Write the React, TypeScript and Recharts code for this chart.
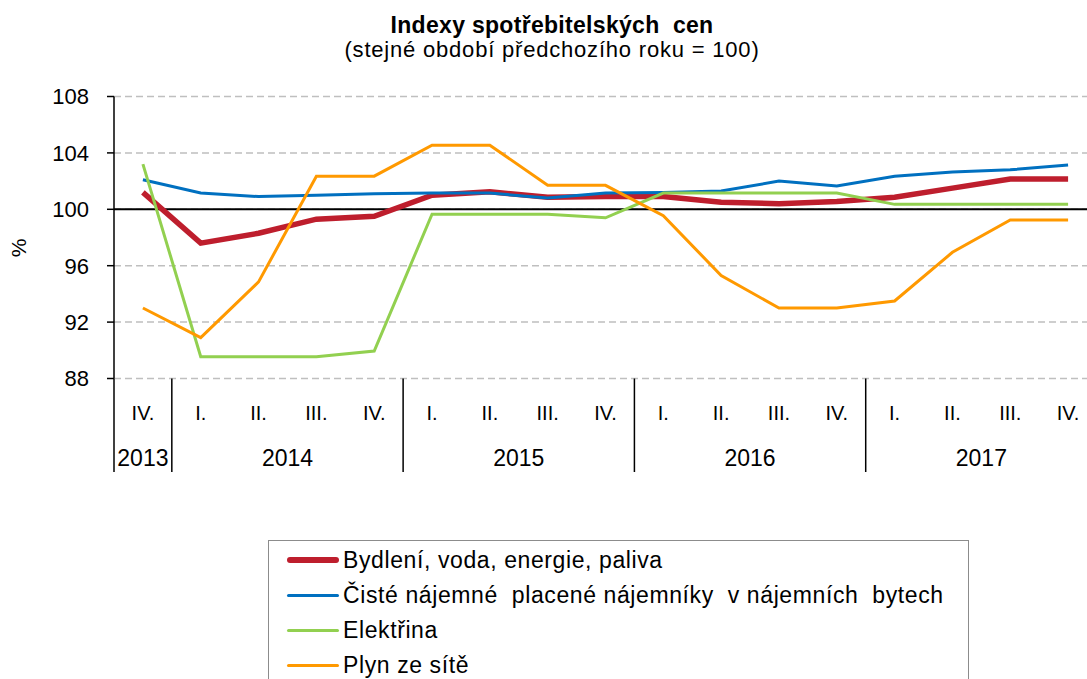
import { LineChart, Line, XAxis, YAxis, CartesianGrid, ReferenceLine } from 'recharts'

const quarters = ['IV.', 'I.', 'II.', 'III.', 'IV.', 'I.', 'II.', 'III.', 'IV.', 'I.', 'II.', 'III.', 'IV.', 'I.', 'II.', 'III.', 'IV.']
const yearLabels = ['2013', '2014', '2015', '2016', '2017']
const yearStarts = [0, 1, 5, 9, 13]
const yearSizes = [1, 4, 4, 4, 4]

const bydleni = [101.2, 97.6, 98.3, 99.3, 99.5, 101.0, 101.25, 100.85, 100.9, 100.9, 100.5, 100.4, 100.55, 100.85, 101.5, 102.15, 102.15]
const najemne = [102.1, 101.15, 100.9, 101.0, 101.1, 101.15, 101.15, 100.8, 101.15, 101.2, 101.3, 102.0, 101.65, 102.35, 102.65, 102.8, 103.15]
const elektrina = [103.2, 89.55, 89.55, 89.55, 89.95, 99.65, 99.65, 99.65, 99.4, 101.15, 101.15, 101.15, 101.15, 100.35, 100.35, 100.35, 100.35]
const plyn = [93.0, 90.9, 94.85, 102.35, 102.35, 104.55, 104.55, 101.7, 101.7, 99.55, 95.3, 93.0, 93.0, 93.5, 96.95, 99.25, 99.25]

const yTicks = [88, 92, 96, 100, 104, 108]

const series = [
  { key: 'bydleni', name: 'Bydlení, voda, energie, paliva', color: '#BE1E2D', width: 5.5 },
  { key: 'najemne', name: 'Čisté nájemné  placené nájemníky  v nájemních  bytech', color: '#0070C0', width: 3 },
  { key: 'elektrina', name: 'Elektřina', color: '#92D050', width: 3 },
  { key: 'plyn', name: 'Plyn ze sítě', color: '#FF9900', width: 3 },
]

const data = quarters.map((q, i) => ({
  q,
  bydleni: bydleni[i],
  najemne: najemne[i],
  elektrina: elektrina[i],
  plyn: plyn[i],
}))

const FONT = '"Liberation Sans", Arial, sans-serif'
const CHART_W = 1100
const PLOT_LEFT = 114
const PLOT_RIGHT = 1097
const PLOT_TOP = 96.5
const PLOT_BOTTOM = 378.5
const X_AXIS_H = 100
const BAND = (PLOT_RIGHT - PLOT_LEFT) / quarters.length
const SEP_BOTTOM = 472

function QuarterTick(props: any) {
  const { x, index, payload } = props
  const yi = yearStarts.indexOf(index)
  return (
    <g>
      <text x={x} y={420} textAnchor="middle" fontSize={20} fontFamily={FONT} fill="#000">
        {payload.value}
      </text>
      {yi >= 0 && (
        <>
          <line x1={x - BAND / 2} x2={x - BAND / 2} y1={PLOT_BOTTOM} y2={SEP_BOTTOM} stroke="#000" strokeWidth={1.5} />
          <text
            x={x - BAND / 2 + (yearSizes[yi] * BAND) / 2}
            y={466}
            textAnchor="middle"
            fontSize={23}
            fontFamily={FONT}
            fill="#000"
          >
            {yearLabels[yi]}
          </text>
        </>
      )}
    </g>
  )
}

export default function App() {
  return (
    <div
      style={{
        position: 'fixed',
        left: 0,
        top: 0,
        width: 1087,
        height: 679,
        overflow: 'hidden',
        background: '#fff',
        fontFamily: FONT,
      }}
    >
      <div style={{ position: 'absolute', left: 0, width: 1104, top: 12, textAlign: 'center', fontSize: 23, fontWeight: 'bold', lineHeight: '26px', letterSpacing: 0.3, whiteSpace: 'pre' }}>
        {'Indexy spotřebitelských  cen'}
      </div>
      <div style={{ position: 'absolute', left: 0, width: 1104, top: 37, textAlign: 'center', fontSize: 22, lineHeight: '26px', letterSpacing: 0.8 }}>
        (stejné období předchozího roku = 100)
      </div>
      <div style={{ position: 'absolute', left: 10, top: 236, fontSize: 21, transform: 'rotate(-90deg)', lineHeight: '24px' }}>%</div>

      <LineChart
        width={CHART_W}
        height={679}
        data={data}
        margin={{ top: PLOT_TOP, right: CHART_W - PLOT_RIGHT, left: 0, bottom: 679 - PLOT_BOTTOM - X_AXIS_H }}
      >
        <CartesianGrid vertical={false} stroke="#BFBFBF" strokeDasharray="7 4" strokeWidth={1.5} />
        <XAxis
          dataKey="q"
          height={X_AXIS_H}
          interval={0}
          padding={{ left: BAND / 2, right: BAND / 2 }}
          axisLine={false}
          tickLine={false}
          tick={<QuarterTick />}
        />
        <YAxis
          width={PLOT_LEFT}
          domain={[88, 108]}
          ticks={yTicks}
          interval={0}
          axisLine={{ stroke: '#000', strokeWidth: 1.5 }}
          tickLine={{ stroke: '#000', strokeWidth: 1.5 }}
          tickSize={7}
          tickMargin={18}
          tick={{ fill: '#000', fontSize: 22, fontFamily: FONT }}
        />
        <ReferenceLine y={100} stroke="#000" strokeWidth={2} />
        {series.map((s) => (
          <Line
            key={s.key}
            type="linear"
            dataKey={s.key}
            name={s.name}
            stroke={s.color}
            strokeWidth={s.width}
            dot={false}
            activeDot={false}
            isAnimationActive={false}
          />
        ))}
      </LineChart>

      <div
        style={{
          position: 'absolute',
          left: 268,
          top: 540,
          width: 701,
          height: 170,
          border: '1.5px solid #8C8C8C',
          boxSizing: 'border-box',
        }}
      >
        {series.map((s, i) => (
          <div
            key={s.key}
            style={{ position: 'absolute', left: 18, top: 6 + i * 35.3, height: 26, display: 'flex', alignItems: 'center', fontSize: 23, letterSpacing: 0.6, whiteSpace: 'pre' }}
          >
            <span style={{ display: 'inline-block', width: 52, height: s.width, background: s.color, borderRadius: 3, marginRight: 4 }} />
            <span>{s.name}</span>
          </div>
        ))}
      </div>
    </div>
  )
}
